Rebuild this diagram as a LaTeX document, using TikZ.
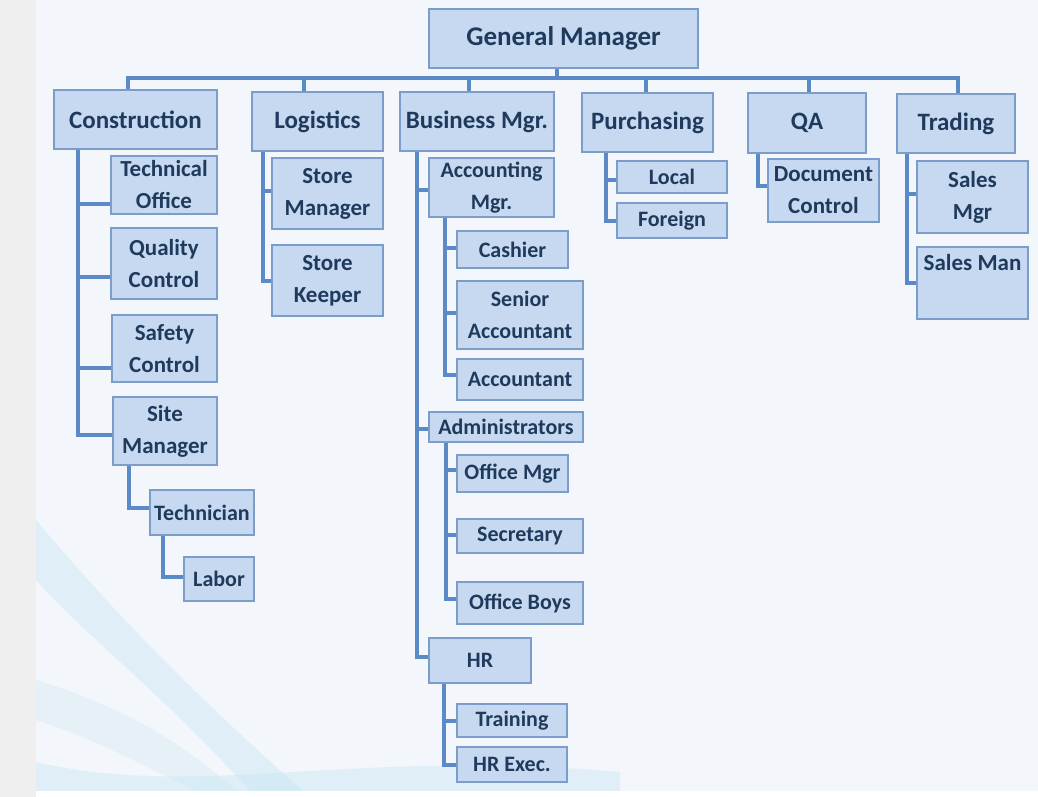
\documentclass[tikz,border=0pt]{standalone}
\usepackage{fontspec}
\setmainfont{Carlito}
\usepackage{tikz}
\usetikzlibrary{arrows,shapes,calc}

\definecolor{bgcol}{HTML}{F3F6FA}
\definecolor{stripcol}{HTML}{EFEFEF}
\definecolor{boxfill}{HTML}{C6D9F0}
\definecolor{boxline}{HTML}{7C9DC9}
\definecolor{linecol}{HTML}{5B8AC8}
\definecolor{navy}{HTML}{1F3A5C}
\definecolor{swoosh}{HTML}{BFE3F2}

\tikzset{
	box/.style={rectangle, draw=boxline, fill=boxfill, text=navy, line width=1.2pt,
		inner sep=0pt, align=center, font=\bfseries\fontsize{22}{32}\selectfont},
	tall/.style={font=\bfseries\fontsize{23}{32}\selectfont},
	head/.style={font=\bfseries\fontsize{25}{32}\selectfont},
	wh/.style 2 args={minimum width=#1, minimum height=#2},
	conn/.style={draw=linecol, line width=4pt}
}

\begin{document}
\begin{tikzpicture}[x=1pt, y=-1pt]
		% background
		\useasboundingbox (0,0) rectangle (1038,797);
		\fill[bgcol] (0,0) rectangle (1038,797);
		\fill[stripcol] (0,0) rectangle (36,797);
		\fill[swoosh, opacity=.35] (36,520) .. controls (120,620) and (200,700) .. (310,797)
			-- (255,797) .. controls (170,700) and (90,640) .. (36,580) -- cycle;
		\fill[swoosh, opacity=.25] (36,680) .. controls (150,715) and (200,760) .. (245,797)
			-- (210,797) .. controls (150,770) and (100,740) .. (36,720) -- cycle;
		\fill[swoosh, opacity=.35] (36,762) .. controls (200,800) and (350,748) .. (620,772)
			-- (620,791) -- (36,791) -- cycle;
		\fill[white] (36,791) rectangle (1038,797);

		% boxes
		\path (563.5,38.5) node[box, wh={269}{59}, font=\bfseries\fontsize{27}{32}\selectfont] (gm) {General Manager}
			(135.5,119.5) node[box, head, wh={163}{59}] (cons) {Construction}
			(317.5,121.5) node[box, head, wh={131}{59}] (log) {Logistics}
			(477,121.5) node[box, head, wh={154}{59}] (biz) {Business Mgr.}
			(647.5,122.5) node[box, head, wh={131}{59}] (pur) {Purchasing}
			(807,123) node[box, head, wh={118}{60}] (qa) {QA}
			(956,123.5) node[box, head, wh={118}{59}] (trd) {Trading};

		\path (164,185) node[box, tall, wh={106}{58}] (tech) {Technical\\Office}
			(164,263.5) node[box, tall, wh={106}{71}] (qc) {Quality\\Control}
			(164.5,348.5) node[box, tall, wh={105}{67}] (sc) {Safety\\Control}
			(165,431) node[box, tall, wh={104}{68}] (site) {Site\\Manager}
			(202,512.5) node[box, wh={104}{45}] (techn) {Technician}
			(219,579) node[box, wh={70}{44}] (labor) {Labor};

		\path (327.5,193.5) node[box, tall, wh={111}{71}] (sm) {Store\\Manager}
			(327.5,280.5) node[box, tall, wh={111}{71}] (sk) {Store\\Keeper};

		\path (491.5,187.5) node[box, wh={125}{59}] (acc) {Accounting\\Mgr.}
			(512.5,249.5) node[box, wh={111}{37}] (cash) {Cashier}
			(520,315) node[box, wh={126}{68}] (sacc) {Senior\\Accountant}
			(520,379.5) node[box, wh={126}{41}] (accn) {Accountant}
			(506,427) node[box, wh={154}{30}] (adm) {Administrators}
			(512.5,473.5) node[box, wh={111}{37}] (omgr) {Office Mgr}
			(520,536) node[box, wh={126}{34}] (sec) {Secretary}
			(520,603) node[box, wh={126}{42}] (boys) {Office Boys}
			(480,660.5) node[box, wh={102}{45}] (hr) {HR}
			(512,720.5) node[box, wh={110}{33}] (trn) {Training}
			(512,764.5) node[box, wh={110}{35}] (hrx) {HR Exec.};

		\path (672,177) node[box, wh={110}{32}] (loc) {Local}
			(672,220.5) node[box, wh={110}{35}] (frn) {Foreign}
			(823.5,190.5) node[box, tall, wh={111}{63}] (doc) {Document\\Control}
			(972.5,197) node[box, tall, wh={111}{72}] (smg) {Sales\\Mgr}
			(972.5,283) node[box, tall, wh={111}{72}] (sman) {Sales Man\\\strut};

		% top level
		\draw[conn] ([xshift=-6.5]gm.south) -- ++(0,9) coordinate (bus);
		\draw[conn] (bus) -| ([xshift=-7.5]cons.north);
		\draw[conn] (bus) -| ([xshift=-13.5]log.north);
		\draw[conn] (bus) -| ([xshift=-8]biz.north);
		\draw[conn] (bus) -| ([xshift=-1.5]pur.north);
		\draw[conn] (bus) -| ([xshift=2]qa.north);
		\draw[conn] (bus) -| ([xshift=2]trd.north);

		% construction
		\draw[conn] ([xshift=-57.5]cons.south) |- ([yshift=-19]tech.west);
		\draw[conn] ([xshift=-57.5]cons.south) |- ([yshift=-13.5]qc.west);
		\draw[conn] ([xshift=-57.5]cons.south) |- ([yshift=-19.5]sc.west);
		\draw[conn] ([xshift=-57.5]cons.south) |- ([yshift=-4]site.west);
		\draw[conn] ([xshift=-36]site.south) |- ([yshift=4.5]techn.west);
		\draw[conn] ([xshift=-39]techn.south) |- ([yshift=2]labor.west);

		% logistics
		\draw[conn] ([xshift=-54.5]log.south) |- ([yshift=2.5]sm.west);
		\draw[conn] ([xshift=-54.5]log.south) |- (sk.west);

		% business
		\draw[conn] ([xshift=-60]biz.south) |- ([yshift=-2.5]acc.west);
		\draw[conn] ([xshift=-60]biz.south) |- ([yshift=-2]adm.west);
		\draw[conn] ([xshift=-60]biz.south) |- ([yshift=3.5]hr.west);
		\draw[conn] ([xshift=-46.5]acc.south) |- ([yshift=1.5]cash.west);
		\draw[conn] ([xshift=-46.5]acc.south) |- ([yshift=2]sacc.west);
		\draw[conn] ([xshift=-46.5]acc.south) |- ([yshift=4.5]accn.west);
		\draw[conn] ([xshift=-60]adm.south) |- ([yshift=3.5]omgr.west);
		\draw[conn] ([xshift=-60]adm.south) |- ([yshift=1]sec.west);
		\draw[conn] ([xshift=-60]adm.south) |- ([yshift=4]boys.west);
		\draw[conn] ([xshift=-36]hr.south) |- (trn.west);
		\draw[conn] ([xshift=-36]hr.south) |- (hrx.west);

		% purchasing, qa, trading
		\draw[conn] ([xshift=-41.5]pur.south) |- ([yshift=-3]loc.west);
		\draw[conn] ([xshift=-41.5]pur.south) |- (frn.west);
		\draw[conn] ([xshift=-49]qa.south) |- ([yshift=4.5]doc.west);
		\draw[conn] ([xshift=-49]trd.south) |- ([yshift=3]smg.west);
		\draw[conn] ([xshift=-49]trd.south) |- (sman.west);
	\end{tikzpicture}
\end{document}
